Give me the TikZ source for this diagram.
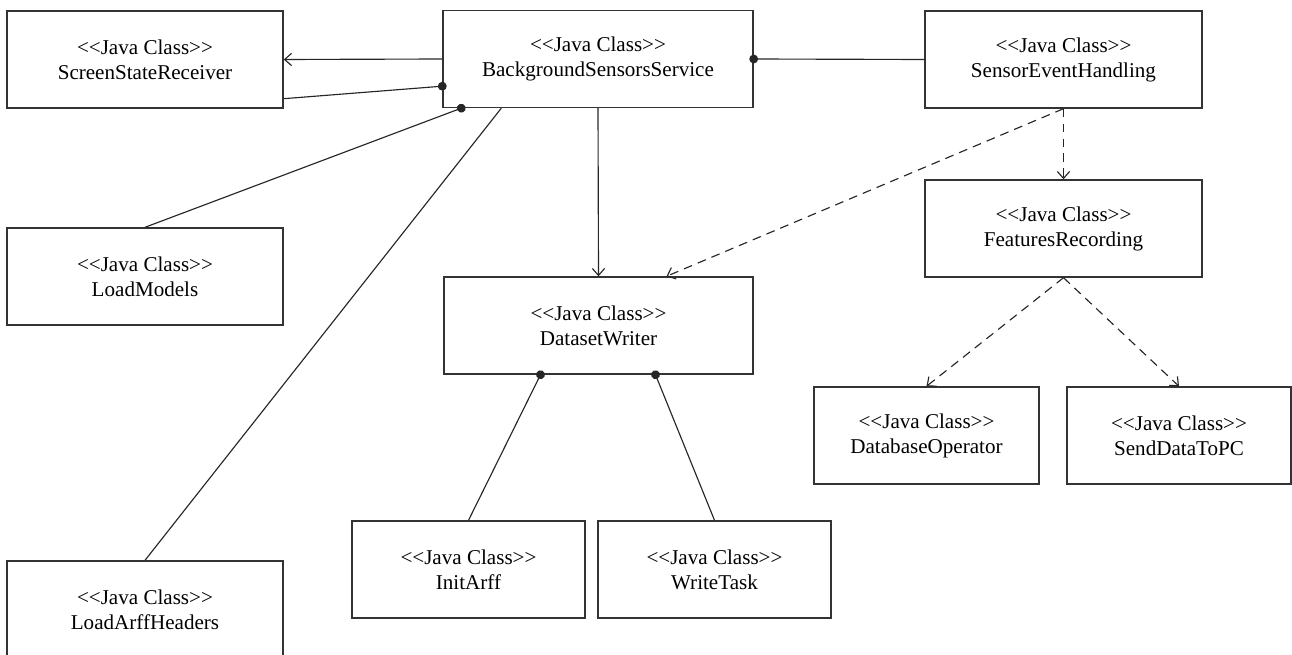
\documentclass[tikz,border=0pt]{standalone}
\usepackage{fontspec}
\newfontfamily\jfamily{Liberation Serif}[Ligatures=TeXOff]
\usetikzlibrary{calc,arrows.meta}
\newcommand{\jfont}{\jfamily\fontsize{12}{14.2}\selectfont}
\tikzset{
	jclass/.style={draw=black!80, line width=0.8pt, minimum height=1.94cm, inner sep=0pt, align=center, font=\jfont},
	boxw/.style={minimum width=#1*0.02cm},
	link/.style={line width=0.65pt, draw=black!85},
	arr/.style={link, -{Straight Barb[length=4pt,width=7pt]}},
	dep/.style={arr, dash pattern=on 5pt off 3.5pt},
	ball/.style={link, {Circle[length=5pt]}-, shorten <=-2.5pt}
}

\begin{document}
\begin{tikzpicture}[x=0.02cm, y=-0.02cm]
		%%%%% START %%%%%
		\useasboundingbox (0,0) rectangle (1292,655);
		\clip (0,0) rectangle (1292,655);
		
		\node[jclass, boxw=276] (ssr) at (145, 59.5) {<<Java Class>>\\ScreenStateReceiver};
		\node[jclass, boxw=310] (bss) at (598, 59) {<<Java Class>>\\BackgroundSensorsService};
		\node[jclass, boxw=277] (seh) at (1063.5, 59.5) {<<Java Class>>\\SensorEventHandling};
		
		\node[jclass, boxw=276] (lm) at (145, 276.5) {<<Java Class>>\\LoadModels};
		\node[jclass, boxw=277] (fr) at (1063.5, 228.5) {<<Java Class>>\\FeaturesRecording};
		\node[jclass, boxw=309] (dw) at (598.5, 325.5) {<<Java Class>>\\DatasetWriter};
		
		\node[jclass, boxw=225] (dbo) at (926.5, 435.5) {<<Java Class>>\\DatabaseOperator};
		\node[jclass, boxw=224] (sdp) at (1179, 435.5) {<<Java Class>>\\SendDataToPC};
		
		\node[jclass, boxw=233] (ia) at (468.5, 569.5) {<<Java Class>>\\InitArff};
		\node[jclass, boxw=233] (wt) at (714.5, 569.5) {<<Java Class>>\\WriteTask};
		\node[jclass, boxw=276] (lah) at (145, 609.5) {<<Java Class>>\\LoadArffHeaders};
		
		\draw[arr] (bss.west) -- (ssr.east);
		\draw[ball] ($(bss.south west)+(0,-22)$) -- ($(ssr.south east)+(0,-10)$);
		\draw[ball] ($(bss.south west)+(19,0)$) -- (lm.north);
		\draw[link] ($(bss.south west)+(59,0)$) -- (lah.north);
		
		\draw[arr] (bss.south) -- (dw.north);
		\draw[ball] (bss.east) -- (seh.west);
		
		\draw[dep] (seh.south) -- ($(dw.north)+(68,0)$);
		\draw[dep] (seh.south) -- (fr.north);
		\draw[dep] (fr.south) -- (dbo.north);
		\draw[dep] (fr.south) -- (sdp.north);
		
		\draw[ball] ($(dw.south)+(-58,0)$) -- (ia.north);
		\draw[ball] ($(dw.south)+(57,0)$) -- (wt.north);
		
		%%%%% END %%%%%
\end{tikzpicture}
\end{document}
